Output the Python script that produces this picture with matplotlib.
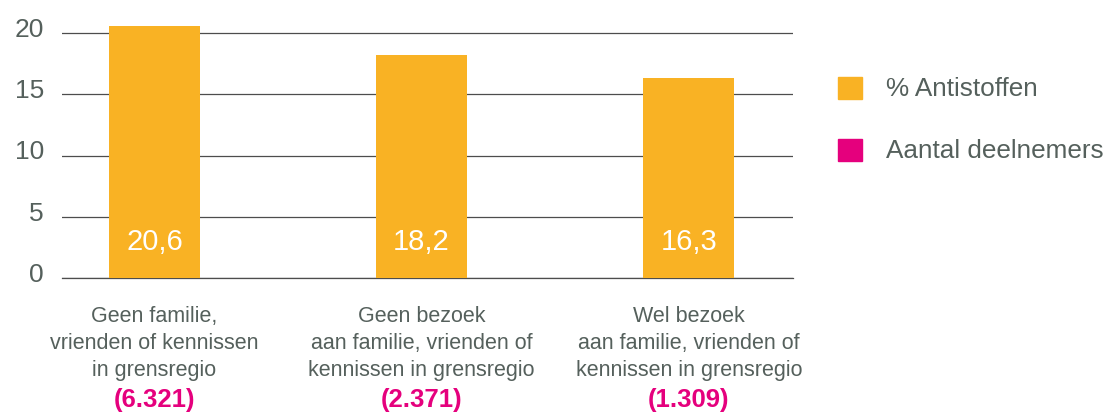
import matplotlib
matplotlib.use("Agg")
import matplotlib.pyplot as plt
import matplotlib.transforms as mtransforms
from matplotlib.patches import Rectangle

# data
categories = ["Geen familie,\nvrienden of kennissen\nin grensregio",
              "Geen bezoek\naan familie, vrienden of\nkennissen in grensregio",
              "Wel bezoek\naan familie, vrienden of\nkennissen in grensregio"]
antistoffen = [20.6, 18.2, 16.3]
deelnemers = ["(6.321)", "(2.371)", "(1.309)"]
yticks = [0, 5, 10, 15, 20]
legend_labels = ["% Antistoffen", "Aantal deelnemers"]

orange = "#F9B224"
pink = "#E5007D"
textcol = "#55605c"

plt.rcParams['font.family'] = ['Liberation Sans', 'DejaVu Sans']

W, H = 1117, 412
fig = plt.figure(figsize=(W/100, H/100), dpi=100)
ax = fig.add_axes([62/W, 134/H, 731/W, 21*12.25/H])

x = list(range(len(categories)))
ax.bar(x, antistoffen, width=0.34, color=orange, zorder=3)

for xi, v in zip(x, antistoffen):
    ax.text(xi, 2.9, f"{v:.1f}".replace(".", ","), ha="center", va="center",
            color="white", fontsize=21, zorder=4)

ax.set_xlim(-0.346, 2.39)
ax.set_ylim(0, 21)
ax.set_yticks(yticks)
ax.set_yticklabels([str(t) for t in yticks], fontsize=19, color=textcol)
ax.tick_params(axis="y", length=0, pad=13)
ax.set_xticks([])
for lab in ax.get_yticklabels():
    lab.set_transform(lab.get_transform() + mtransforms.ScaledTranslation(0, 4/72, fig.dpi_scale_trans))

ax.grid(axis="y", color="#4d4d4d", linewidth=0.9, zorder=0)
ax.axhline(0, color="#4d4d4d", linewidth=0.9, zorder=0, clip_on=False)
for s in ax.spines.values():
    s.set_visible(False)

# category labels and participant counts under the bars
for xi, cat, n in zip(x, categories, deelnemers):
    ax.text(xi, -2.3, cat, ha="center", va="top", fontsize=15.5, color=textcol,
            linespacing=1.36, clip_on=False)
    ax.text(xi, -9.95, n, ha="center", va="center", fontsize=18.5, color=pink,
            fontweight="bold", clip_on=False)

# legend drawn by hand to place it like the reference
for i, (lab, col) in enumerate(zip(legend_labels, [orange, pink])):
    yc = 88 + 62*i
    fig.add_artist(Rectangle((838/W, 1 - (yc + 11)/H), 24/W, 22/H,
                             transform=fig.transFigure, color=col))
    fig.text(886/W, 1 - (yc + 1)/H, lab, ha="left", va="center", fontsize=18.8, color=textcol)

fig.savefig("out.png", dpi=100)
